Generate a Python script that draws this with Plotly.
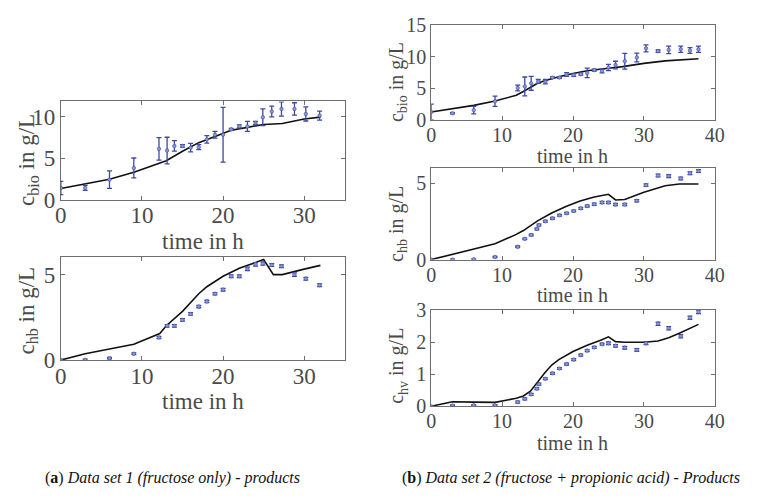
import plotly.graph_objects as go

# ---------------- Data set 1 (fructose only) ----------------
t1 = [0, 3, 6, 9, 12.1, 13.1, 14, 15, 16, 17, 18, 19, 20, 21, 22, 23, 24, 24.9, 26, 27.2, 28.8, 30.2, 31.9]
bio1 = [1.4, 1.4, 2.4, 3.8, 6.1, 5.9, 6.45, 6.45, 6.25, 6.3, 7.25, 7.8, 7.8, 8.45, 8.8, 8.8, 9.2, 9.9, 10.6, 10.9, 10.9, 10.3, 10.1]
bio1_err = [0.8, 0.3, 1.05, 1.2, 1.35, 1.6, 0.63, 0.15, 0.5, 0.3, 0.45, 0.4, 3.3, 0.12, 0.18, 0.6, 0.2, 1.0, 0.65, 0.85, 0.75, 0.85, 0.55]
hb1 = [0.0, 0.01, 0.11, 0.37, 1.32, 2.0, 2.0, 2.35, 2.7, 3.13, 3.43, 3.88, 4.12, 4.9, 4.9, 5.34, 5.6, 5.65, 5.56, 5.49, 5.0, 4.76, 4.38]
hb1_err = [0.04, 0.04, 0.04, 0.05, 0.07, 0.07, 0.07, 0.07, 0.07, 0.07, 0.07, 0.07, 0.08, 0.08, 0.08, 0.1, 0.1, 0.1, 0.08, 0.08, 0.1, 0.08, 0.08]

tm1 = [0, 3, 6, 9, 12.2, 13, 15, 17, 19, 20, 21, 23, 25, 26.2, 27.3, 30, 32]
bio1_model = [1.33, 1.91, 2.45, 3.29, 4.4, 4.67, 5.82, 6.85, 7.58, 8.0, 8.35, 8.69, 9.04, 9.1, 9.15, 9.69, 9.92]
tm1b = [0, 3, 6, 9, 12.2, 13, 15, 17, 18, 20, 22, 25, 26.2, 27.3, 30, 32]
hb1_model = [0.0, 0.37, 0.65, 0.93, 1.55, 2.01, 2.85, 3.88, 4.29, 4.9, 5.37, 5.88, 5.0, 5.0, 5.32, 5.54]

# ---------------- Data set 2 (fructose + propionic acid) ----------------
t2 = [0, 3, 6, 9, 12.2, 13.2, 14.1, 15.1, 16.1, 17.1, 18.1, 19.1, 20.1, 21.1, 22, 23, 24.1, 25, 26, 27.3, 29, 30.3, 32, 33.5, 35.2, 36.5, 37.7]
bio2 = [1.25, 1.05, 1.55, 2.95, 5.05, 5.3, 5.8, 6.1, 6.05, 6.7, 6.7, 7.2, 7.1, 7.25, 7.45, 7.9, 7.75, 8.3, 8.7, 9.3, 9.9, 11.35, 10.9, 11.1, 11.2, 11.0, 11.2]
bio2_err = [1.25, 0.1, 0.6, 0.8, 0.45, 1.5, 1.1, 0.3, 0.35, 0.12, 0.1, 0.28, 0.2, 0.15, 0.75, 0.15, 0.3, 0.5, 0.6, 1.25, 0.7, 0.55, 0.18, 0.6, 0.5, 0.45, 0.5]

t2b = [0, 3, 6, 9, 12.2, 13.2, 14.1, 14.9, 15.2, 16.1, 17.1, 18.1, 19.1, 20.1, 21.1, 22, 23, 24.1, 25, 26, 27.3, 29, 30.3, 32, 33.5, 35.2, 36.5, 37.7]
hb2 = [0.0, 0.0, 0.02, 0.17, 0.84, 1.36, 1.61, 2.0, 2.26, 2.51, 2.7, 2.9, 3.03, 3.18, 3.35, 3.5, 3.62, 3.74, 3.74, 3.6, 3.6, 3.85, 4.87, 5.5, 5.46, 5.31, 5.65, 5.8]
hb2_err = [0.03, 0.03, 0.03, 0.04, 0.05, 0.05, 0.05, 0.06, 0.06, 0.06, 0.06, 0.06, 0.06, 0.06, 0.06, 0.06, 0.07, 0.07, 0.07, 0.07, 0.07, 0.07, 0.08, 0.09, 0.09, 0.09, 0.09, 0.09]
hv2 = [0.0, 0.02, 0.03, 0.03, 0.13, 0.23, 0.37, 0.55, 0.69, 0.86, 1.03, 1.18, 1.32, 1.46, 1.6, 1.74, 1.84, 1.94, 1.97, 1.89, 1.83, 1.76, 1.97, 2.58, 2.44, 2.19, 2.77, 2.95]
hv2_err = [0.02, 0.02, 0.02, 0.02, 0.03, 0.03, 0.03, 0.03, 0.03, 0.03, 0.03, 0.03, 0.03, 0.03, 0.03, 0.03, 0.03, 0.03, 0.04, 0.04, 0.04, 0.04, 0.04, 0.05, 0.05, 0.05, 0.05, 0.05]

tm2 = [0, 6, 9, 12, 13, 15, 16, 18, 20, 22, 25, 27, 30, 33, 37.7]
bio2_model = [1.26, 2.3, 3.0, 3.9, 4.5, 5.8, 6.2, 6.85, 7.35, 7.8, 8.2, 8.45, 8.96, 9.36, 9.7]
tm2b = [0, 3, 6, 9, 12, 13, 15, 17, 19, 21, 23, 25, 26, 27.3, 30, 33, 35, 37.7]
hb2_model = [0.0, 0.33, 0.65, 1.03, 1.65, 1.9, 2.53, 3.05, 3.47, 3.83, 4.1, 4.27, 3.9, 3.93, 4.41, 4.83, 4.94, 4.94]
tm2c = [0, 3, 6, 9, 12, 13, 14, 15, 16, 17, 18, 20, 22, 24, 25, 26, 27.3, 30, 32, 33.5, 35, 37.7]
hv2_model = [0.0, 0.14, 0.13, 0.12, 0.25, 0.32, 0.47, 0.76, 1.04, 1.29, 1.46, 1.71, 1.91, 2.07, 2.17, 2.02, 2.0, 2.0, 2.04, 2.14, 2.28, 2.56]

xtitle = "time in h"
ytitles = ["c<sub>bio</sub> in g/L", "c<sub>hb</sub> in g/L", "c<sub>bio</sub> in g/L",
           "c<sub>hb</sub> in g/L", "c<sub>hv</sub> in g/L"]
captions = ["(<b>a</b>) <i>Data set 1 (fructose only) - products</i>",
            "(<b>b</b>) <i>Data set 2 (fructose + propionic acid) - Products</i>"]

# ---------------- Styling ----------------
BLUE = "#3a4aa6"
LINE = "#111111"
AX = "#6e6e6e"
TXT = "#4a4a4a"
FONT = "Liberation Serif"
W, H = 762, 504

fig = go.Figure()

panels = [
    # axes, x domain, y domain, x range, y range, xticks, yticks, font size,
    # x-title centre (px), y-title centre (px), tick label standoff
    ("x", "y", [0.0735, 0.4541], [0.6071, 0.8115], [0, 35], [0, 11.8], [0, 10, 20, 30], [0, 5, 10], 23, (201, 242), (22, 157), -5),
    ("x2", "y2", [0.0735, 0.4541], [0.2728, 0.4875], [0, 35], [0, 6.03], [0, 10, 20, 30], [0, 5], 23, (201, 410), (22, 315), -5),
    ("x3", "y3", [0.570, 0.9501], [0.7732, 0.9702], [0, 40], [0, 15], [0, 10, 20, 30, 40], [0, 5, 10, 15], 20, (579, 152), (400, 75), -3),
    ("x4", "y4", [0.570, 0.9501], [0.4821, 0.6732], [0, 40], [0, 6.0], [0, 10, 20, 30, 40], [0, 5], 20, (579, 298), (400, 224), -3),
    ("x5", "y5", [0.570, 0.9501], [0.1766, 0.3764], [0, 40], [0, 3], [0, 10, 20, 30, 40], [0, 1, 2, 3], 20, (579, 454), (400, 373), -3),
]

series = [
    (t1, bio1, bio1_err, tm1, bio1_model),
    (t1, hb1, hb1_err, tm1b, hb1_model),
    (t2, bio2, bio2_err, tm2, bio2_model),
    (t2b, hb2, hb2_err, tm2b, hb2_model),
    (t2b, hv2, hv2_err, tm2c, hv2_model),
]

layout_axes = {}
for (xa, ya, xd, yd, xr, yr, xt, yt, fs, xtc, ytc, tso), (td, vd, ed, tm, vm), yttl in zip(panels, series, ytitles):
    fig.add_trace(go.Scatter(
        x=tm, y=vm, mode="lines", line=dict(color=LINE, width=1.6),
        xaxis=xa, yaxis=ya, showlegend=False, hoverinfo="skip"))
    fig.add_trace(go.Scatter(
        x=td, y=vd, mode="markers",
        marker=dict(color="#8a96d0", size=3.5, line=dict(color=BLUE, width=0.6)),
        error_y=dict(type="data", array=ed, visible=True, color=BLUE, thickness=1.3, width=2.5),
        xaxis=xa, yaxis=ya, showlegend=False))
    xkey = "xaxis" + xa[1:]
    ykey = "yaxis" + ya[1:]
    common = dict(ticks="inside", ticklen=4, tickcolor=AX, showline=True, linecolor=AX,
                  linewidth=1, mirror="ticks", showgrid=False, zeroline=False,
                  tickfont=dict(family=FONT, size=fs, color=TXT))
    layout_axes[xkey] = dict(domain=xd, range=xr, anchor=ya, tickvals=xt,
                             ticklabelstandoff=tso, **common)
    layout_axes[ykey] = dict(domain=yd, range=yr, anchor=xa, tickvals=yt, **common)
    fig.add_annotation(x=xtc[0] / W, y=1 - xtc[1] / H, xref="paper", yref="paper",
                       text=xtitle, showarrow=False, xanchor="center", yanchor="middle",
                       font=dict(family=FONT, size=fs, color=TXT))
    fig.add_annotation(x=ytc[0] / W, y=1 - ytc[1] / H, xref="paper", yref="paper",
                       text=yttl, showarrow=False, xanchor="center", yanchor="middle",
                       textangle=-90, font=dict(family=FONT, size=fs, color=TXT))

fig.update_layout(
    width=W, height=H,
    margin=dict(l=0, r=0, t=0, b=0),
    paper_bgcolor="white", plot_bgcolor="white",
    showlegend=False,
    **layout_axes,
)

fig.add_annotation(
    x=170 / W, y=1 - 490 / H, xref="paper", yref="paper", showarrow=False,
    text=captions[0], font=dict(family=FONT, size=16, color="#111111"),
    xanchor="center", yanchor="middle")
fig.add_annotation(
    x=577 / W, y=1 - 490 / H, xref="paper", yref="paper", showarrow=False,
    text=captions[1], font=dict(family=FONT, size=16, color="#111111"),
    xanchor="center", yanchor="middle")

fig.write_html("out.html")
